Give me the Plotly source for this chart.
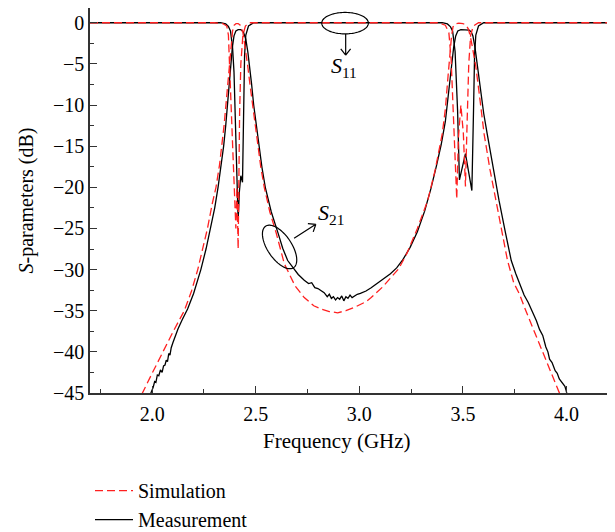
import math
import plotly.graph_objects as go

# ---------------- data ----------------
# S21 simulation
f_s21_sim = [1.930, 1.953, 2.000, 2.050, 2.100, 2.155, 2.190, 2.220, 2.245, 2.267, 2.290, 2.308,
             2.325, 2.337, 2.347, 2.356, 2.365, 2.372, 2.380, 2.388, 2.396, 2.405, 2.415, 2.425,
             2.438, 2.450, 2.460, 2.472, 2.485, 2.497, 2.509, 2.524, 2.541, 2.568, 2.598, 2.638,
             2.690, 2.734, 2.780, 2.815, 2.855, 2.895, 2.935, 2.976, 3.032, 3.057, 3.113, 3.150,
             3.190, 3.230, 3.280, 3.330, 3.365, 3.400, 3.415, 3.428, 3.437, 3.445, 3.452, 3.462,
             3.480, 3.500, 3.515, 3.527, 3.540, 3.552, 3.562, 3.578, 3.590, 3.602, 3.630, 3.658,
             3.690, 3.715, 3.745, 3.773, 3.805, 3.837, 3.870, 3.902, 3.935, 3.966, 3.985]
s21_sim = [-46.5, -45.0, -42.6, -40.0, -37.6, -35.0, -32.6, -30.0, -27.5, -25.0, -22.0, -20.0,
           -17.3, -15.0, -12.5, -10.0, -7.3, -5.0, -2.6, -1.0, -0.3, -0.1, -0.1, -0.3,
           -1.2, -3.2, -5.0, -7.5, -10.0, -12.5, -15.0, -17.5, -20.0, -23.0, -25.5, -29.3,
           -32.0, -33.4, -34.4, -34.8, -35.1, -35.25, -35.0, -34.6, -33.9, -33.4, -32.1, -31.0,
           -29.9, -28.0, -25.0, -21.6, -18.0, -13.5, -10.5, -6.5, -3.8, -1.6, -0.5, -0.15,
           -0.05, -0.1, -0.3, -0.8, -2.2, -3.8, -5.3, -8.5, -11.0, -13.5, -17.8, -21.6,
           -25.5, -28.9, -31.6, -33.0, -35.1, -37.1, -39.1, -41.0, -43.0, -45.0, -46.2]

# S11 simulation
f_s11_sim = [1.70, 2.30, 2.340, 2.360, 2.368, 2.374, 2.380, 2.390, 2.400, 2.404, 2.409, 2.415,
             2.422, 2.428, 2.438, 2.450, 2.470, 3.380, 3.415, 3.432, 3.443, 3.452, 3.462, 3.470,
             3.478, 3.490, 3.502, 3.512, 3.518, 3.522, 3.528, 3.537, 3.550, 3.575, 4.20]
s11_sim = [0.0, 0.0, -0.1, -0.4, -1.5, -5.0, -10.6, -16.0, -22.4, -25.0, -20.0, -27.5,
           -11.0, -5.0, -1.5, -0.4, 0.0, 0.0, -0.3, -1.2, -4.5, -10.0, -16.0, -21.4,
           -14.0, -10.0, -13.5, -19.9, -14.0, -10.6, -5.0, -1.5, -0.4, 0.0, 0.0]

# S21 measurement
f_s21_meas = [1.985, 1.994, 2.005, 2.012, 2.018, 2.025, 2.032, 2.040, 2.048, 2.055, 2.062, 2.068,
              2.074, 2.080, 2.086, 2.092, 2.100, 2.112, 2.125, 2.145, 2.171, 2.200, 2.235, 2.260,
              2.282, 2.302, 2.318, 2.333, 2.345, 2.355, 2.364, 2.372, 2.379, 2.387, 2.395, 2.404,
              2.415, 2.428, 2.440, 2.452, 2.462, 2.470, 2.480, 2.490, 2.502, 2.515, 2.530, 2.546,
              2.575, 2.608, 2.630, 2.654, 2.680, 2.705, 2.734, 2.755, 2.770, 2.785, 2.800, 2.815,
              2.830, 2.845, 2.855, 2.865, 2.875, 2.885, 2.895, 2.905, 2.915, 2.925, 2.935, 2.945,
              2.955, 2.965, 2.976, 2.990, 3.005, 3.032, 3.057, 3.085, 3.113, 3.150, 3.180, 3.210,
              3.245, 3.280, 3.315, 3.345, 3.372, 3.395, 3.415, 3.430, 3.443, 3.455, 3.465, 3.475,
              3.490, 3.510, 3.530, 3.540, 3.548, 3.558, 3.570, 3.585, 3.600, 3.617, 3.645, 3.674,
              3.705, 3.733, 3.755, 3.773, 3.795, 3.815, 3.835, 3.854, 3.870, 3.885, 3.900, 3.910,
              3.918, 3.930, 3.945, 3.955, 3.965, 3.975, 3.982, 3.992, 3.998, 4.005]
s21_meas = [-46.0, -45.0, -44.3, -43.6, -43.7, -42.8, -42.9, -42.2, -42.5, -41.7, -41.6, -41.0,
            -41.2, -40.2, -40.4, -39.5, -38.9, -38.0, -37.2, -36.1, -34.8, -32.9, -30.0, -27.5,
            -25.0, -22.5, -20.0, -17.3, -15.0, -12.5, -10.0, -7.5, -5.0, -3.0, -1.6, -1.0,
            -0.85, -0.85, -1.1, -2.0, -3.6, -5.2, -7.5, -10.0, -12.5, -15.0, -17.6, -20.0,
            -23.0, -25.6, -27.4, -28.9, -29.8, -30.6, -31.3, -31.7, -31.6, -32.2, -32.3, -32.6,
            -32.8, -33.3, -33.0, -33.5, -33.3, -33.7, -33.4, -33.6, -33.2, -33.8, -33.3, -33.5,
            -33.1, -33.4, -33.2, -33.0, -32.9, -32.6, -32.2, -31.7, -31.2, -30.5, -29.8, -28.8,
            -27.3, -25.4, -22.9, -20.2, -17.4, -14.8, -12.0, -8.5, -5.3, -3.0, -1.6, -1.0,
            -0.85, -0.85, -0.9, -1.1, -1.6, -3.0, -5.3, -8.5, -11.0, -13.5, -17.6, -21.6,
            -25.5, -28.9, -30.5, -31.7, -33.1, -34.0, -35.1, -36.2, -37.3, -38.0, -39.4, -40.0,
            -40.9, -41.3, -42.3, -42.6, -43.3, -43.6, -43.9, -44.2, -44.7, -45.5]

# S11 measurement
f_s11_meas = [1.70, 2.330, 2.355, 2.368, 2.378, 2.388, 2.395, 2.400, 2.405, 2.410, 2.413, 2.415,
              2.421, 2.428, 2.436, 2.441, 2.446, 2.452, 2.465, 2.490, 3.400, 3.425, 3.440, 3.450,
              3.462, 3.474, 3.483, 3.512, 3.543, 3.551, 3.556, 3.562, 3.575, 3.600, 4.20]
s11_meas = [0.0, 0.0, -0.15, -0.45, -1.0, -3.0, -6.0, -10.6, -15.5, -20.0, -21.5, -24.0,
            -20.5, -18.6, -19.4, -10.6, -4.0, -1.5, -0.4, 0.0, 0.0, -0.15, -0.5, -1.0,
            -3.5, -10.6, -19.1, -15.9, -20.4, -10.6, -4.0, -1.5, -0.4, 0.0, 0.0]

x_tick_vals = [2.0, 2.5, 3.0, 3.5, 4.0]
y_tick_vals = [0, -5, -10, -15, -20, -25, -30, -35, -40, -45]
legend_names = ["Simulation", "Measurement"]
x_title = "Frequency (GHz)"
y_title = "<i>S</i>-parameters (dB)"

# ---------------- layout constants ----------------
# the page places the figure 8 px in from the top-left corner, so the figure
# is 8 px smaller and its margins are shifted to keep the reference geometry
W, H = 607, 524
ML, MR, MT, MB = 82, 7, 0, 139
X_RANGE = [1.7, 4.2]
Y_RANGE = [-45, 1.79]
FONT = "Liberation Serif, Times New Roman, serif"
PW, PH = W - ML - MR, H - MT - MB
PX_X = PW / (X_RANGE[1] - X_RANGE[0])
PX_Y = PH / (Y_RANGE[1] - Y_RANGE[0])

fig = go.Figure()
fig.add_trace(go.Scatter(x=f_s21_meas, y=s21_meas, mode="lines", name=legend_names[1],
                         legendgroup="meas", showlegend=True, legendrank=2,
                         line=dict(color="black", width=1.3)))
fig.add_trace(go.Scatter(x=f_s11_meas, y=s11_meas, mode="lines", name=legend_names[1],
                         legendgroup="meas", showlegend=False,
                         line=dict(color="black", width=1.3)))
fig.add_trace(go.Scatter(x=f_s21_sim, y=s21_sim, mode="lines", name=legend_names[0],
                         legendgroup="sim", showlegend=True, legendrank=1,
                         line=dict(color="#ff2020", width=1.3, dash="8px,4px")))
fig.add_trace(go.Scatter(x=f_s11_sim, y=s11_sim, mode="lines", name=legend_names[0],
                         legendgroup="sim", showlegend=False,
                         line=dict(color="#ff2020", width=1.3, dash="8px,4px")))


def ellipse_path(cx, cy, a_px, b_px, ang_deg, n=90):
    th = math.radians(ang_deg)
    pts = []
    for k in range(n + 1):
        t = 2 * math.pi * k / n
        u, v = a_px * math.cos(t), b_px * math.sin(t)
        dx = u * math.cos(th) - v * math.sin(th)
        dy = u * math.sin(th) + v * math.cos(th)
        pts.append((cx + dx / PX_X, cy - dy / PX_Y))
    return "M " + " L ".join(f"{x:.5f},{y:.5f}" for x, y in pts) + " Z"


def arrow_path(x0, y0, x1, y1, head_px=8, spread_deg=38):
    dxp = (x1 - x0) * PX_X
    dyp = -(y1 - y0) * PX_Y
    ang = math.atan2(dyp, dxp)
    segs = [f"M {x0:.5f},{y0:.5f} L {x1:.5f},{y1:.5f}"]
    for s in (1, -1):
        a = ang + math.pi + s * math.radians(spread_deg)
        wx = x1 + head_px * math.cos(a) / PX_X
        wy = y1 - head_px * math.sin(a) / PX_Y
        segs.append(f"M {x1:.5f},{y1:.5f} L {wx:.5f},{wy:.5f}")
    return " ".join(segs)


shape_line = dict(color="black", width=1.2)
shapes = [
    dict(type="path", xref="x", yref="y", path=ellipse_path(2.931, -0.05, 23.3, 10.7, 0),
         line=shape_line),
    dict(type="path", xref="x", yref="y", path=arrow_path(2.934, -1.37, 2.934, -3.95),
         line=shape_line),
    dict(type="path", xref="x", yref="y", path=ellipse_path(2.615, -27.25, 25, 12, 56),
         line=shape_line),
    dict(type="path", xref="x", yref="y", path=arrow_path(2.685, -26.2, 2.790, -24.5),
         line=shape_line),
]

annotations = [
    dict(x=2.928, y=-5.4, xref="x", yref="y", text="<i>S</i><sub>11</sub>", showarrow=False,
         font=dict(family=FONT, size=22, color="black")),
    dict(x=2.862, y=-23.3, xref="x", yref="y", text="<i>S</i><sub>21</sub>", showarrow=False,
         font=dict(family=FONT, size=22, color="black")),
    # x-axis title (sits a little left of the plot centre in the reference)
    dict(x=0.476, y=0, xref="paper", yref="paper", yanchor="middle", yshift=-48,
         text=x_title, showarrow=False, font=dict(family=FONT, size=21, color="black")),
]

axis_common = dict(showline=True, mirror=True, linecolor="#333333", linewidth=1.5,
                   ticks="inside", ticklen=7, tickwidth=1.3, tickcolor="#333333",
                   showgrid=False, zeroline=False, automargin=False,
                   tickfont=dict(family=FONT, size=20, color="black"))

fig.update_layout(
    width=W, height=H,
    margin=dict(l=ML, r=MR, t=MT, b=MB, autoexpand=False),
    paper_bgcolor="white", plot_bgcolor="white",
    font=dict(family=FONT, size=20, color="black"),
    xaxis=dict(range=X_RANGE, tickvals=x_tick_vals, tickformat=".1f",
               ticklabelstandoff=2,
               minor=dict(ticks="inside", ticklen=4, dtick=0.25, tick0=1.75,
                          tickcolor="#333333", tickwidth=1.2),
               **axis_common),
    yaxis=dict(range=Y_RANGE, tickvals=y_tick_vals,
               minor=dict(ticks="inside", ticklen=4, dtick=2.5, tick0=0,
                          tickcolor="#333333", tickwidth=1.2),
               title=dict(text=y_title, font=dict(family=FONT, size=20), standoff=14),
               **axis_common),
    legend=dict(x=0.0, y=-0.203, xanchor="left", yanchor="top", orientation="v",
                bgcolor="rgba(0,0,0,0)", font=dict(family=FONT, size=20),
                itemwidth=38, tracegroupgap=0, traceorder="normal"),
    shapes=shapes,
    annotations=annotations,
)

fig.write_html("out.html")
